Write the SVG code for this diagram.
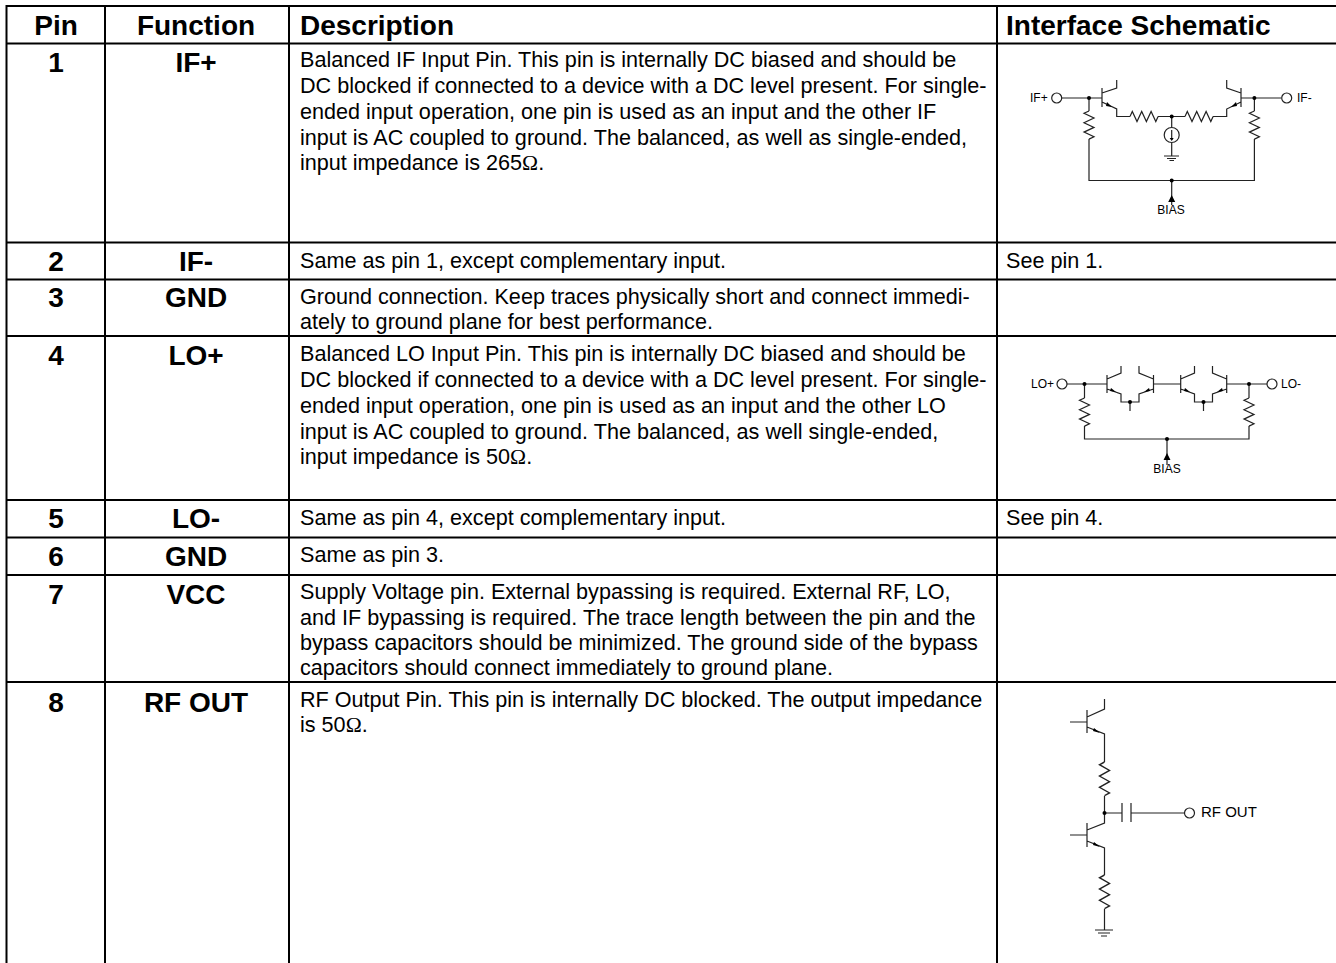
<svg xmlns="http://www.w3.org/2000/svg" width="1336" height="963" viewBox="0 0 1336 963">
<style>
text{font-family:"Liberation Sans",Arial,sans-serif;fill:#000}
.h{font-size:28px;font-weight:bold}
.c{text-anchor:middle}
.b{font-size:21.600px}
.m{font-family:"Liberation Serif",serif}
.s{font-size:12px}
.r{font-size:15px}
.g{stroke:#000;stroke-width:2;fill:none}
.w{stroke:#222;stroke-width:1.200;fill:none}
.o{stroke:#222;stroke-width:1.200;fill:#fff}
.d{fill:#000}
</style>
<defs>
<path id="zv" d="M0 0l-5 2.300 10 4.700-10 4.700 10 4.700-10 4.700 10 4.700-5 2.300" class="w"/>
<path id="zh" d="M0 0l2.300-5 4.700 10 4.700-10 4.700 10 4.700-10 4.700 10 2.300-5" class="w"/>
</defs>
<g id="table" class="g">
<path d="M6.500 963V6H1336M6.500 43.500H1336M6.500 242.500H1336M6.500 279.500H1336M6.500 336H1336M6.500 500H1336M6.500 537.500H1336M6.500 575H1336M6.500 682H1336M105 6V963M289 6V963M997 6V963"/>
</g>
<g id="header" class="h">
<text class="c" x="56" y="35">Pin</text><text class="c" x="196" y="35">Function</text><text x="300" y="35">Description</text><text x="1006" y="35">Interface Schematic</text>
</g>
<g id="pins" class="h c">
<text x="56" y="72">1</text><text x="196" y="72">IF+</text>
<text x="56" y="271">2</text><text x="196" y="271">IF-</text>
<text x="56" y="307">3</text><text x="196" y="307">GND</text>
<text x="56" y="365">4</text><text x="196" y="365">LO+</text>
<text x="56" y="528">5</text><text x="196" y="528">LO-</text>
<text x="56" y="566">6</text><text x="196" y="566">GND</text>
<text x="56" y="604">7</text><text x="196" y="604">VCC</text>
<text x="56" y="712">8</text><text x="196" y="712">RF OUT</text>
</g>
<g id="descriptions" class="b">
<text x="300" y="67">Balanced IF Input Pin. This pin is internally DC biased and should be</text>
<text x="300" y="92.700">DC blocked if connected to a device with a DC level present. For single-</text>
<text x="300" y="118.500">ended input operation, one pin is used as an input and the other IF</text>
<text x="300" y="144.500">input is AC coupled to ground. The balanced, as well as single-ended,</text>
<text x="300" y="170">input impedance is 265<tspan class="m">Ω</tspan>.</text>
<text x="300" y="268">Same as pin 1, except complementary input.</text>
<text x="300" y="304">Ground connection. Keep traces physically short and connect immedi-</text>
<text x="300" y="329">ately to ground plane for best performance.</text>
<text x="300" y="361">Balanced LO Input Pin. This pin is internally DC biased and should be</text>
<text x="300" y="386.700">DC blocked if connected to a device with a DC level present. For single-</text>
<text x="300" y="412.500">ended input operation, one pin is used as an input and the other LO</text>
<text x="300" y="438.500">input is AC coupled to ground. The balanced, as well single-ended,</text>
<text x="300" y="464">input impedance is 50<tspan class="m">Ω</tspan>.</text>
<text x="300" y="525">Same as pin 4, except complementary input.</text>
<text x="300" y="562">Same as pin 3.</text>
<text x="300" y="599">Supply Voltage pin. External bypassing is required. External RF, LO,</text>
<text x="300" y="624.500">and IF bypassing is required. The trace length between the pin and the</text>
<text x="300" y="650">bypass capacitors should be minimized. The ground side of the bypass</text>
<text x="300" y="675">capacitors should connect immediately to ground plane.</text>
<text x="300" y="707">RF Output Pin. This pin is internally DC blocked. The output impedance</text>
<text x="300" y="732">is 50<tspan class="m">Ω</tspan>.</text>
<text x="1006" y="268">See pin 1.</text>
<text x="1006" y="525">See pin 4.</text>
</g>
<g id="schematic-if">
<path class="w" d="M1062 98H1102M1102 88V107M1102 93L1116.700 88V80M1102 102L1116.700 109V116.500H1130M1158 116.500H1185M1213 116.500H1226.700V109L1241 102M1241 93L1226.700 88V80M1241 88V107M1241 98H1281M1089 98V111M1089 139V180.500H1254.400V139M1254.400 111V98M1171.700 116.500V127M1171.700 143V156M1164 156H1179M1167 158.500H1176M1169.500 160.500H1174M1171.700 130V140M1171.700 180.500V205"/>
<use href="#zh" x="1130" y="116.500"/><use href="#zh" x="1185" y="116.500"/>
<use href="#zv" x="1089" y="111"/><use href="#zv" x="1254.400" y="111"/>
<circle class="o" cx="1056.700" cy="98" r="5"/><circle class="o" cx="1286.700" cy="98" r="5"/><circle class="w" cx="1171.700" cy="135" r="7.500"/>
<g class="d"><circle cx="1089" cy="98" r="2"/><circle cx="1254.400" cy="98" r="2"/><circle cx="1171.700" cy="116.500" r="2"/><circle cx="1171.700" cy="180.500" r="2"/>
<path d="M1171.700 195l-3.500 7h7zM1112 107l-5-5-1 4zM1231 107l5-5 1 4zM1171.700 141l-2-3h4z"/></g>
<text class="s" x="1030" y="102">IF+</text><text class="s" x="1297" y="102">IF-</text><text class="s c" x="1171" y="214">BIAS</text>
</g>
<g id="schematic-lo">
<path class="w" d="M1067 384H1107M1107 375V393M1107 379L1121 373V366M1107 389L1121 394V402H1139V394L1153.500 389M1153.500 379L1139 373V366M1153.500 375V393M1130 402V411M1153.500 384H1180.700M1180.700 375V393M1180.700 379L1194.500 373V366M1180.700 389L1194.500 394V402H1212.500V394L1226.700 389M1226.700 379L1212.500 373V366M1226.700 375V393M1203.500 402V411M1226.700 384H1267M1084.500 384V398M1084.500 426V439H1249V426M1249 398V384M1167 439V465"/>
<use href="#zv" x="1084.500" y="398"/><use href="#zv" x="1249" y="398"/>
<circle class="o" cx="1062" cy="384" r="5"/><circle class="o" cx="1272" cy="384" r="5"/>
<g class="d"><circle cx="1084.500" cy="384" r="2"/><circle cx="1249" cy="384" r="2"/><circle cx="1130" cy="402" r="2"/><circle cx="1203.500" cy="402" r="2"/><circle cx="1167" cy="439" r="2"/>
<path d="M1167 453l-3.500 7h7zM1116 392l-5-4-1 3zM1144 392l5-4 1 3zM1190 392l-5-4-1 3zM1217 392l5-4 1 3z"/></g>
<text class="s" x="1031" y="388">LO+</text><text class="s" x="1281" y="388">LO-</text><text class="s c" x="1167" y="473">BIAS</text>
</g>
<g id="schematic-rf">
<path class="w" d="M1070 722H1087M1087 710V733M1087 717L1104.500 709V699M1087 727L1104.500 734V762M1104.500 796V823L1087 830M1070 835H1087M1087 823V847M1087 841L1104.500 848V875M1104.500 909V930M1095 930H1113M1098 933H1110M1101 936H1107M1104.500 813H1122M1122 803V822M1131 803V822M1131 813H1184"/>
<use href="#zv" transform="translate(1104.500 762) scale(1 1.200)"/><use href="#zv" transform="translate(1104.500 875) scale(1 1.200)"/>
<circle class="o" cx="1189.500" cy="813" r="5"/>
<g class="d"><circle cx="1104.500" cy="813" r="2"/><path d="M1100 733l-6-5-1 3zM1100 847l-6-5-1 3z"/></g>
<text class="r" x="1201" y="817">RF OUT</text>
</g>
</svg>
